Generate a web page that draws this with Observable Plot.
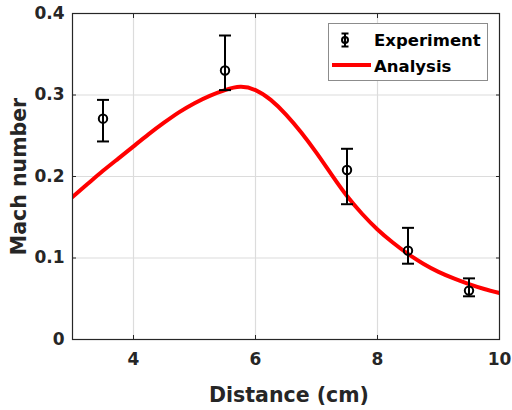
<!DOCTYPE html>
<html>
<head>
<meta charset="utf-8">
<script src="https://cdn.jsdelivr.net/npm/d3@7"></script>
<script src="https://cdn.jsdelivr.net/npm/@observablehq/plot@0.6"></script>
<style>
  html, body { margin: 0; padding: 0; background: #fff; }
  #wrap { position: relative; width: 512px; height: 410px; }
  #legend { position: absolute; left: 0; top: 0; }
</style>
</head>
<body>
<div id="wrap"></div>
<script>
// Experiment (with error bars)
const expX  = [3.5, 5.5, 7.5, 8.5, 9.5];
const expY  = [0.271, 0.330, 0.208, 0.109, 0.060];
const expHi = [0.294, 0.373, 0.234, 0.137, 0.075];
const expLo = [0.243, 0.306, 0.166, 0.093, 0.053];

// Analysis curve
const anaX = [3, 3.25, 3.5, 3.75, 4, 4.25, 4.5, 4.75, 5, 5.25, 5.5, 5.75, 6, 6.25, 6.5, 6.75, 7, 7.25, 7.5, 7.75, 8, 8.25, 8.5, 8.75, 9, 9.25, 9.5, 9.75, 10];
const anaY = [0.175, 0.191, 0.207, 0.222, 0.237, 0.252, 0.266, 0.279, 0.290, 0.299, 0.306, 0.310, 0.306, 0.294, 0.276, 0.254, 0.229, 0.202, 0.176, 0.154, 0.135, 0.119, 0.105, 0.093, 0.083, 0.075, 0.068, 0.062, 0.057];

// Ticks
const xTicks = [4, 6, 8, 10];
const xTickLabels = ["4", "6", "8", "10"];
const yTicks = [0, 0.1, 0.2, 0.3, 0.4];
const yTickLabels = ["0", "0.1", "0.2", "0.3", "0.4"];

const seriesNames = ["Experiment", "Analysis"];
const xLabel = "Distance (cm)";
const yLabel = "Mach number";

const exp = expX.map((x, i) => ({x, y: expY[i], hi: expHi[i], lo: expLo[i]}));
const ana = anaX.map((x, i) => ({x, y: anaY[i]}));

const capSymbol = {
  draw(ctx, size) {
    const r = Math.sqrt(size / Math.PI);
    ctx.moveTo(-r, 0);
    ctx.lineTo(r, 0);
  }
};

const axisColor = "#262626";
const gridColor = "#dcdcdc";

const chart = Plot.plot({
  width: 512,
  height: 410,
  marginLeft: 72,
  marginRight: 13,
  marginTop: 13,
  marginBottom: 71,
  style: {fontFamily: "'DejaVu Sans', sans-serif", fontWeight: "bold", fontSize: "17px", color: axisColor, background: "#fff"},
  x: {domain: [3, 10]},
  y: {domain: [0, 0.4]},
  marks: [
    Plot.gridX(xTicks.slice(0, 3), {stroke: gridColor, strokeOpacity: 1, strokeWidth: 1.2}),
    Plot.gridY(yTicks.slice(1, 4), {stroke: gridColor, strokeOpacity: 1, strokeWidth: 1.2}),
    // tick labels
    Plot.axisX(xTicks, {tickSize: 0, tickPadding: 13, tickFormat: (d, i) => xTickLabels[i], label: null, fill: axisColor}),
    Plot.axisY(yTicks, {tickSize: 0, tickPadding: 8, tickFormat: (d, i) => yTickLabels[i], label: null, fill: axisColor}),
    // inward ticks on all sides
    Plot.axisX(xTicks, {anchor: "bottom", tickSize: -4, tickFormat: () => "", label: null, stroke: axisColor}),
    Plot.axisX(xTicks, {anchor: "top", tickSize: -4, tickFormat: () => "", label: null, stroke: axisColor}),
    Plot.axisY(yTicks, {anchor: "left", tickSize: -4, tickFormat: () => "", label: null, stroke: axisColor}),
    Plot.axisY(yTicks, {anchor: "right", tickSize: -4, tickFormat: () => "", label: null, stroke: axisColor}),
    // analysis curve
    Plot.line(ana, {x: "x", y: "y", curve: "natural", stroke: "#ff0000", strokeWidth: 4, clip: true}),
    // error bars
    Plot.ruleX(exp, {x: "x", y1: "lo", y2: "hi", stroke: "#000", strokeWidth: 2}),
    Plot.dot(exp, {x: "x", y: "hi", symbol: capSymbol, r: 6, stroke: "#000", strokeWidth: 2, fill: "none"}),
    Plot.dot(exp, {x: "x", y: "lo", symbol: capSymbol, r: 6, stroke: "#000", strokeWidth: 2, fill: "none"}),
    Plot.dot(exp, {x: "x", y: "y", r: 4.2, stroke: "#000", strokeWidth: 2, fill: "none"}),
    Plot.frame({stroke: axisColor, strokeWidth: 1.2}),
    // axis titles
    Plot.text([xLabel], {frameAnchor: "bottom", textAnchor: "middle", dy: 62, dx: 3, lineAnchor: "bottom", fontSize: 20.5, fill: axisColor}),
    Plot.text([yLabel], {frameAnchor: "left", textAnchor: "middle", dx: -47, rotate: -90, lineAnchor: "bottom", fontSize: 20.5, fill: axisColor})
  ]
});

const wrap = document.getElementById("wrap");
wrap.appendChild(chart);

// Legend overlay
const leg = d3.create("svg")
  .attr("id", "legend")
  .attr("width", 512).attr("height", 100)
  .style("font-family", "'DejaVu Sans', sans-serif")
  .style("font-weight", "bold")
  .style("font-size", "16.5px");
leg.append("rect").attr("x", 328.5).attr("y", 23.5).attr("width", 159).attr("height", 57)
  .attr("fill", "#fff").attr("stroke", "#8c8c8c").attr("stroke-width", 1);
const g1 = leg.append("g").attr("stroke", "#000").attr("stroke-width", 2).attr("fill", "none");
g1.append("line").attr("x1", 345).attr("x2", 345).attr("y1", 33.5).attr("y2", 46.5);
g1.append("line").attr("x1", 341.5).attr("x2", 348.5).attr("y1", 33.5).attr("y2", 33.5);
g1.append("line").attr("x1", 341.5).attr("x2", 348.5).attr("y1", 46.5).attr("y2", 46.5);
g1.append("circle").attr("cx", 345).attr("cy", 40).attr("r", 3);
leg.append("text").attr("x", 374).attr("y", 46).attr("fill", "#000").text(seriesNames[0]);
leg.append("line").attr("x1", 332).attr("x2", 371).attr("y1", 65).attr("y2", 65)
  .attr("stroke", "#ff0000").attr("stroke-width", 4);
leg.append("text").attr("x", 374).attr("y", 72).attr("fill", "#000").text(seriesNames[1]);
wrap.appendChild(leg.node());
</script>
</body>
</html>
